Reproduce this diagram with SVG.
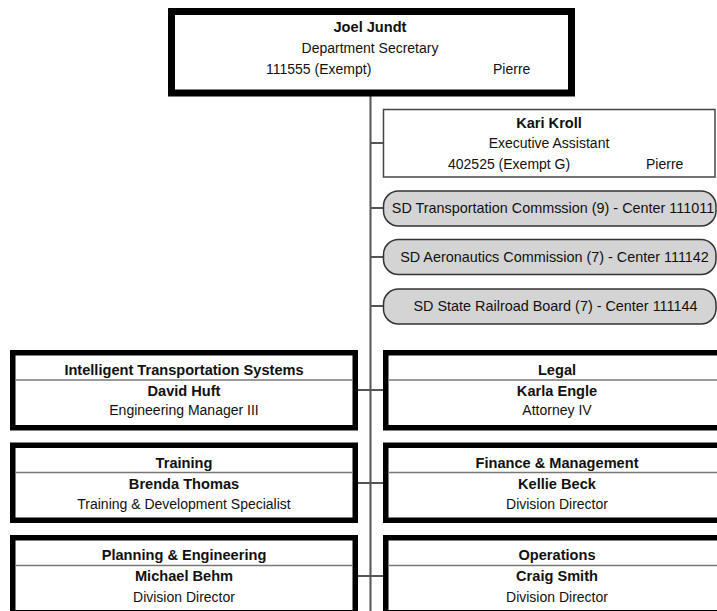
<svg xmlns="http://www.w3.org/2000/svg" width="717" height="611" viewBox="0 0 717 611">
<style>
text{font-family:"Liberation Sans",Arial,sans-serif;font-size:14px;fill:#111;}
.b{font-weight:bold;font-size:14.6px;}
.m{text-anchor:middle;}
.g{font-size:14.4px;}
.thick{fill:#fff;stroke:#000;stroke-width:5.5;}
.top{fill:#fff;stroke:#000;stroke-width:7;}
.thin{fill:#fff;stroke:#444;stroke-width:1.5;}
.pill{fill:#d4d4d4;stroke:#333;stroke-width:1.5;}
.div{stroke:#777;stroke-width:1.5;}
.con{stroke:#555;stroke-width:2;fill:none;}
</style>
<rect width="717" height="611" fill="#fff"/>
<g id="connectors">
<line class="con" x1="370.5" y1="95" x2="370.5" y2="611"/>
<line class="con" x1="370.5" y1="143" x2="383.5" y2="143"/>
<line class="con" x1="370.5" y1="208" x2="383.5" y2="208"/>
<line class="con" x1="370.5" y1="257" x2="383.5" y2="257"/>
<line class="con" x1="370.5" y1="306" x2="383.5" y2="306"/>
<line class="con" x1="357" y1="390" x2="383" y2="390"/>
<line class="con" x1="357" y1="483" x2="383" y2="483"/>
<line class="con" x1="357" y1="576" x2="383" y2="576"/>
</g>
<g id="joel">
<rect class="top" x="171.5" y="11.5" width="400" height="81.5"/>
<text class="b m" x="370" y="32">Joel Jundt</text>
<text class="m" x="370" y="53">Department Secretary</text>
<text x="266" y="74">111555 (Exempt)</text>
<text x="493" y="74">Pierre</text>
</g>
<g id="kari">
<rect class="thin" x="383.5" y="109.5" width="331.5" height="67.5"/>
<text class="b m" x="549" y="128">Kari Kroll</text>
<text class="m" x="549" y="148">Executive Assistant</text>
<text x="448" y="169">402525 (Exempt G)</text>
<text x="646" y="169">Pierre</text>
</g>
<g id="transcomm">
<rect class="pill" x="383.5" y="191" width="332.5" height="35" rx="15"/>
<text class="m g" x="553" y="213">SD Transportation Commssion (9) - Center 111011</text>
</g>
<g id="aerocomm">
<rect class="pill" x="383.5" y="239.5" width="332.5" height="35" rx="15"/>
<text class="m g" x="554.5" y="262">SD Aeronautics Commission (7) - Center 111142</text>
</g>
<g id="railboard">
<rect class="pill" x="383.5" y="289" width="332.5" height="35" rx="15"/>
<text class="m g" x="555.5" y="311">SD State Railroad Board (7) - Center 111144</text>
</g>
<g id="its">
<rect class="thick" x="12.75" y="352.75" width="342.5" height="75"/>
<line class="div" x1="15.5" y1="380" x2="352.5" y2="380"/>
<text class="b m" x="184" y="375">Intelligent Transportation Systems</text>
<text class="b m" x="184" y="396">David Huft</text>
<text class="m" x="184" y="415">Engineering Manager III</text>
</g>
<g id="legal">
<rect class="thick" x="385.75" y="352.75" width="342.5" height="75"/>
<line class="div" x1="388.5" y1="380" x2="717" y2="380"/>
<text class="b m" x="557" y="375">Legal</text>
<text class="b m" x="557" y="396">Karla Engle</text>
<text class="m" x="557" y="415">Attorney IV</text>
</g>
<g id="training">
<rect class="thick" x="12.75" y="445.25" width="342.5" height="75"/>
<line class="div" x1="15.5" y1="472.5" x2="352.5" y2="472.5"/>
<text class="b m" x="184" y="468">Training</text>
<text class="b m" x="184" y="489">Brenda Thomas</text>
<text class="m" x="184" y="509">Training &amp; Development Specialist</text>
</g>
<g id="finance">
<rect class="thick" x="385.75" y="445.25" width="342.5" height="75"/>
<line class="div" x1="388.5" y1="472.5" x2="717" y2="472.5"/>
<text class="b m" x="557" y="468">Finance &amp; Management</text>
<text class="b m" x="557" y="489">Kellie Beck</text>
<text class="m" x="557" y="509">Division Director</text>
</g>
<g id="planning">
<rect class="thick" x="12.75" y="537.75" width="342.5" height="75"/>
<line class="div" x1="15.5" y1="565.5" x2="352.5" y2="565.5"/>
<text class="b m" x="184" y="560">Planning &amp; Engineering</text>
<text class="b m" x="184" y="581">Michael Behm</text>
<text class="m" x="184" y="602">Division Director</text>
</g>
<g id="operations">
<rect class="thick" x="385.75" y="537.75" width="342.5" height="75"/>
<line class="div" x1="388.5" y1="565.5" x2="717" y2="565.5"/>
<text class="b m" x="557" y="560">Operations</text>
<text class="b m" x="557" y="581">Craig Smith</text>
<text class="m" x="557" y="602">Division Director</text>
</g>
</svg>
